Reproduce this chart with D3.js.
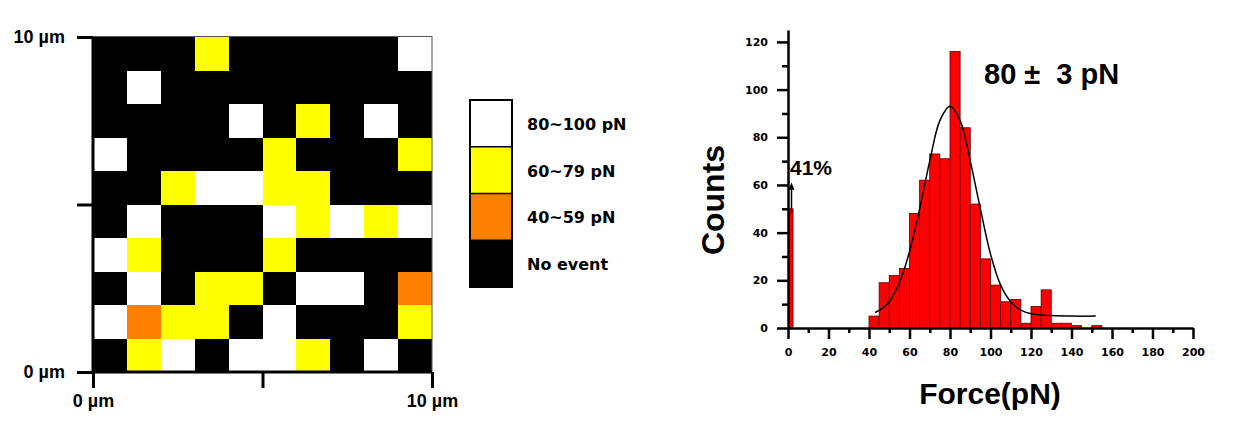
<!DOCTYPE html>
<html>
<head>
<meta charset="utf-8">
<script src="https://cdn.jsdelivr.net/npm/d3@7"></script>
<style>
  body { margin: 0; background: #fff; }
  svg { display: block; }
</style>
</head>
<body>
<svg></svg>
<script>
// размеры страницы
const width = 1237;
const height = 448;

// карта 10x10: 0 = нет события, 1 = 40~59, 2 = 60~79, 3 = 80~100 (сверху вниз)
const gridRows = [
  [0, 0, 0, 2, 0, 0, 0, 0, 0, 3],
  [0, 3, 0, 0, 0, 0, 0, 0, 0, 0],
  [0, 0, 0, 0, 3, 0, 2, 0, 3, 0],
  [3, 0, 0, 0, 0, 2, 0, 0, 0, 2],
  [0, 0, 2, 3, 3, 2, 2, 0, 0, 0],
  [0, 3, 0, 0, 0, 3, 2, 3, 2, 3],
  [3, 2, 0, 0, 0, 2, 0, 0, 0, 0],
  [0, 3, 0, 2, 2, 0, 3, 3, 0, 1],
  [3, 1, 2, 2, 0, 3, 0, 0, 0, 2],
  [0, 2, 3, 0, 3, 3, 2, 0, 3, 0]
];
const levelNames = ["No event", "40~59 pN", "60~79 pN", "80~100 pN"];
const levelColors = ["#000000", "#ff8000", "#ffff00", "#ffffff"];
const mapTicks = [0, 5, 10];

// гистограмма сил
const binStarts = [-2.5, 40, 45, 50, 55, 60, 65, 70, 75, 80, 85, 90, 95, 100, 105, 110, 115, 120, 125, 130, 135, 140, 145, 150];
const binCounts = [50, 5, 19, 22, 25, 48, 62, 73, 71, 116, 84, 52, 29, 18, 11, 12, 2, 9, 16, 2, 2, 1, 0, 1];
const binWidth = 5;

// кривая аппроксимации
const fitX = [43, 47, 50, 55, 60, 65, 70, 75, 80, 85, 90, 95, 100, 105, 110, 115, 120, 130, 140, 152];
const fitY = [6.5, 8.5, 11, 19, 32, 50, 70, 87, 93, 87, 70, 50, 31, 18, 11, 7.5, 6, 5.2, 5, 5];

const xMajor = d3.range(0, 201, 20);
const yMajor = d3.range(0, 121, 20);

let svg = d3.select("svg")
  .attr("width", width)
  .attr("height", height);

svg.append("rect")
  .attr("width", width)
  .attr("height", height)
  .attr("fill", "#fff");

const arial = "Arial, 'Liberation Sans', sans-serif";
const vera = "'DejaVu Sans', Verdana, sans-serif";

// ---------- карта ----------
const mx = d3.scaleLinear().domain([0, 10]).range([93, 432]);
const my = d3.scaleLinear().domain([0, 10]).range([372, 37]);

let map = svg.append("g");

let cells = map.append("g").attr("shape-rendering", "crispEdges");
gridRows.forEach((row, i) => {
  row.forEach((v, j) => {
    cells.append("rect")
      .attr("x", Math.round(mx(j)))
      .attr("y", Math.round(my(10 - i)))
      .attr("width", Math.round(mx(j + 1)) - Math.round(mx(j)))
      .attr("height", Math.round(my(9 - i)) - Math.round(my(10 - i)))
      .attr("fill", levelColors[v]);
  });
});

// рамка
map.append("rect")
  .attr("x", mx(0))
  .attr("y", my(10) - 0.5)
  .attr("width", mx(10) - mx(0))
  .attr("height", my(0) - my(10))
  .attr("fill", "none")
  .attr("stroke", "#555")
  .attr("stroke-width", 1);

const mapFmt = d => d === 5 ? "" : d + " µm";

let mapLeft = map.append("g")
  .attr("transform", `translate(${mx(0)},0)`)
  .call(d3.axisLeft(my).tickValues(mapTicks).tickFormat(mapFmt).tickSize(16).tickPadding(12));

let mapBottom = map.append("g")
  .attr("transform", `translate(0,${my(0)})`)
  .call(d3.axisBottom(mx).tickValues(mapTicks).tickFormat(mapFmt).tickSize(16).tickPadding(6));

[mapLeft, mapBottom].forEach(a => {
  a.selectAll("path, line").attr("stroke", "#000").attr("stroke-width", 3);
  a.select(".domain").attr("d", a === mapLeft
    ? `M0,${my(0)}V${my(10)}` : `M${mx(0)},0H${mx(10)}`);
  a.selectAll("text")
    .attr("font-family", arial)
    .attr("font-weight", "bold")
    .attr("font-size", 18)
    .attr("fill", "#000");
});

// легенда
const legTop = 100, legH = 46.75, legX = 470, legW = 42;
const legOrder = [3, 2, 1, 0];
let legend = svg.append("g");
legOrder.forEach((lv, k) => {
  legend.append("rect")
    .attr("x", legX)
    .attr("y", legTop + k * legH)
    .attr("width", legW)
    .attr("height", legH)
    .attr("fill", levelColors[lv]);
  legend.append("text")
    .attr("x", 527)
    .attr("y", legTop + k * legH + legH / 2 + 1)
    .attr("dominant-baseline", "central")
    .attr("font-family", vera)
    .attr("font-weight", "bold")
    .attr("font-size", 16)
    .text(levelNames[lv]);
});
legend.append("rect")
  .attr("x", legX)
  .attr("y", legTop)
  .attr("width", legW)
  .attr("height", legH * 4)
  .attr("fill", "none")
  .attr("stroke", "#000")
  .attr("stroke-width", 2);
legOrder.slice(0, 3).forEach((lv, k) => {
  legend.append("line")
    .attr("x1", legX).attr("x2", legX + legW)
    .attr("y1", legTop + (k + 1) * legH).attr("y2", legTop + (k + 1) * legH)
    .attr("stroke", "#000")
    .attr("stroke-width", 1.5);
});

// ---------- гистограмма ----------
const hx = d3.scaleLinear().domain([0, 200]).range([788, 1193]);
const hy = d3.scaleLinear().domain([0, 125]).range([328, 30]);

let hist = svg.append("g");

hist.append("clipPath").attr("id", "plotclip")
  .append("rect")
  .attr("x", hx(0)).attr("y", 0)
  .attr("width", hx(200) - hx(0)).attr("height", hy(0));

hist.append("g")
  .attr("clip-path", "url(#plotclip)")
  .selectAll("rect")
  .data(binStarts.map((s, i) => ({ s: s, c: binCounts[i] })).filter(d => d.c > 0))
  .join("rect")
  .attr("x", d => hx(d.s))
  .attr("y", d => hy(d.c))
  .attr("width", d => hx(d.s + binWidth) - hx(d.s))
  .attr("height", d => hy(0) - hy(d.c))
  .attr("fill", "#ff0000")
  .attr("stroke", "#5a0000")
  .attr("stroke-width", 0.8);

// кривая
const line = d3.line()
  .x((d, i) => hx(fitX[i]))
  .y(d => hy(d))
  .curve(d3.curveCatmullRom);
hist.append("path")
  .attr("d", line(fitY))
  .attr("fill", "none")
  .attr("stroke", "#000")
  .attr("stroke-width", 1.5);

// оси
let hBottom = hist.append("g")
  .attr("transform", `translate(0,${hy(0)})`)
  .call(d3.axisBottom(hx).tickValues(xMajor).tickSize(11).tickPadding(9).tickSizeOuter(0));
hist.append("g")
  .attr("transform", `translate(0,${hy(0)})`)
  .call(d3.axisBottom(hx).tickValues(d3.range(10, 200, 20)).tickSize(5).tickFormat("").tickSizeOuter(0))
  .select(".domain").remove();

let hLeft = hist.append("g")
  .attr("transform", `translate(${hx(0)},0)`)
  .call(d3.axisLeft(hy).tickValues(yMajor).tickSize(11).tickPadding(9).tickSizeOuter(0));
hist.append("g")
  .attr("transform", `translate(${hx(0)},0)`)
  .call(d3.axisLeft(hy).tickValues(d3.range(10, 121, 20)).tickSize(6).tickFormat("").tickSizeOuter(0))
  .select(".domain").remove();

hist.selectAll(".domain, .tick line")
  .attr("stroke", "#000")
  .attr("stroke-width", 2.5);
hist.selectAll(".tick text")
  .attr("font-family", vera)
  .attr("font-weight", "bold")
  .attr("font-size", 11)
  .attr("fill", "#000");

// подписи
hist.append("text")
  .attr("transform", "translate(713,200) rotate(-90)")
  .attr("text-anchor", "middle")
  .attr("dominant-baseline", "central")
  .attr("font-family", arial)
  .attr("font-weight", "bold")
  .attr("font-size", 32)
  .text("Counts");

hist.append("text")
  .attr("x", 990)
  .attr("y", 404)
  .attr("text-anchor", "middle")
  .attr("font-family", arial)
  .attr("font-weight", "bold")
  .attr("font-size", 30)
  .text("Force(pN)");

hist.append("text")
  .attr("x", 984)
  .attr("y", 84)
  .attr("font-family", arial)
  .attr("font-weight", "bold")
  .attr("font-size", 29)
  .attr("xml:space", "preserve")
  .style("white-space", "pre")
  .text("80 ±  3 pN");

hist.append("text")
  .attr("x", 790)
  .attr("y", 175)
  .attr("font-family", arial)
  .attr("font-weight", "bold")
  .attr("font-size", 21)
  .text("41%");

// стрелка 41%
hist.append("line")
  .attr("x1", 791.5).attr("x2", 791.5)
  .attr("y1", hy(48)).attr("y2", hy(59))
  .attr("stroke", "#000")
  .attr("stroke-width", 1.5);
hist.append("path")
  .attr("d", `M788.5,${hy(58)}L791.5,${hy(61)}L794.5,${hy(58)}Z`)
  .attr("fill", "#000");
</script>
</body>
</html>
